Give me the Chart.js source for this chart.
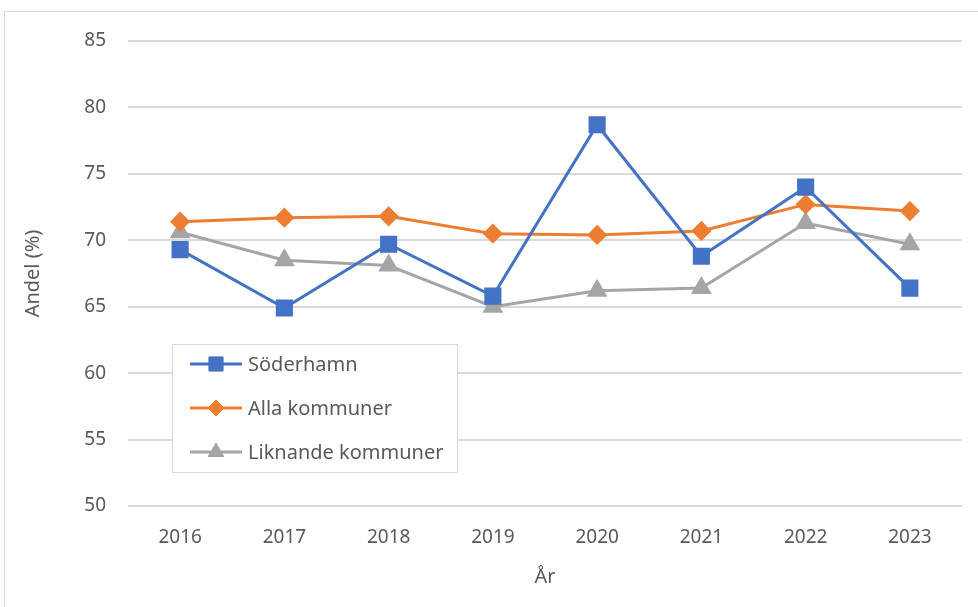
<!DOCTYPE html>
<html>
<head>
<meta charset="utf-8">
<script src="https://cdn.jsdelivr.net/npm/chart.js@4.4.1/dist/chart.umd.min.js"></script>
<style>
  html, body { margin: 0; padding: 0; background: #fff; }
  #wrap { width: 978px; height: 607px; position: relative; }
</style>
</head>
<body>
<div id="wrap"><canvas id="chart" width="978" height="607"></canvas></div>
<script>
'use strict';

// values
let years = ['2016', '2017', '2018', '2019', '2020', '2021', '2022', '2023'];
let soderhamn = [69.3, 64.9, 69.7, 65.8, 78.7, 68.8, 74.0, 66.4];
let allaKommuner = [71.4, 71.7, 71.8, 70.5, 70.4, 70.7, 72.7, 72.2];
let liknandeKommuner = [70.6, 68.5, 68.1, 65.0, 66.2, 66.4, 71.3, 69.7];
let seriesNames = ['Söderhamn', 'Alla kommuner', 'Liknande kommuner'];

const FONT = "'Noto Sans', 'Open Sans', sans-serif";
const TEXT = '#595959';

// frame round the whole chart
const framePlugin = {
  id: 'frame',
  beforeDraw(chart) {
    const ctx = chart.ctx;
    ctx.save();
    ctx.fillStyle = '#fff';
    ctx.fillRect(0, 0, chart.width, chart.height);
    ctx.strokeStyle = '#d9d9d9';
    ctx.lineWidth = 1;
    ctx.strokeRect(4.5, 11.5, chart.width + 10, chart.height + 10);
    ctx.restore();
  }
};

// legend box drawn inside the plot, like the original
const legendBox = {
  id: 'legendBox',
  afterDatasetsDraw(chart) {
    const ctx = chart.ctx;
    const x = 172, y = 344, w = 285, h = 128;
    ctx.save();
    ctx.fillStyle = '#fff';
    ctx.fillRect(x, y, w, h);
    ctx.strokeStyle = '#d9d9d9';
    ctx.lineWidth = 1;
    ctx.strokeRect(x + 0.5, y + 0.5, w, h);
    chart.data.datasets.forEach((ds, i) => {
      const cy = y + 20 + i * 44;
      ctx.strokeStyle = ds.borderColor;
      ctx.lineWidth = 3;
      ctx.beginPath();
      ctx.moveTo(190, cy);
      ctx.lineTo(242, cy);
      ctx.stroke();
      ctx.fillStyle = ds.borderColor;
      ctx.lineWidth = 1;
      Chart.helpers.drawPoint(ctx, {
        pointStyle: ds.pointStyle,
        radius: ds.pointRadius,
        rotation: 0,
        borderWidth: 1
      }, 216, cy);
      ctx.fillStyle = TEXT;
      ctx.font = '20px ' + FONT;
      ctx.textBaseline = 'middle';
      ctx.textAlign = 'left';
      ctx.fillText(ds.label, 248, cy + 1);
    });
    ctx.restore();
  }
};

const ctx = document.getElementById('chart');
new Chart(ctx, {
  type: 'line',
  data: {
    labels: years,
    datasets: [
      {
        label: seriesNames[0], data: soderhamn,
        borderColor: '#4472C4', backgroundColor: '#4472C4',
        borderWidth: 3, pointStyle: 'rect', pointRadius: 10, pointHoverRadius: 10,
        tension: 0
      },
      {
        label: seriesNames[1], data: allaKommuner,
        borderColor: '#ED7D31', backgroundColor: '#ED7D31',
        borderWidth: 3, pointStyle: 'rectRot', pointRadius: 8, pointHoverRadius: 8,
        tension: 0
      },
      {
        label: seriesNames[2], data: liknandeKommuner,
        borderColor: '#A5A5A5', backgroundColor: '#A5A5A5',
        borderWidth: 3, pointStyle: 'triangle', pointRadius: 9, pointHoverRadius: 9,
        tension: 0
      }
    ]
  },
  options: {
    responsive: false,
    animation: false,
    layout: { padding: { top: 41, right: 16, left: 0, bottom: 0 } },
    plugins: {
      legend: { display: false },
      tooltip: { enabled: false }
    },
    scales: {
      x: {
        offset: true,
        grid: { display: false, drawTicks: false },
        border: { display: false },
        ticks: { color: TEXT, font: { family: FONT, size: 19 }, padding: 20 },
        title: { display: true, text: 'År', color: TEXT, font: { family: FONT, size: 20 }, padding: { top: 18, bottom: 18 } },
        afterFit(scale) { scale.height = 101; }
      },
      y: {
        min: 50, max: 85,
        ticks: { stepSize: 5, color: TEXT, font: { family: FONT, size: 19 }, padding: 22 },
        grid: { color: '#d9d9d9', lineWidth: 2, drawTicks: false },
        border: { display: false },
        title: { display: true, text: 'Andel (%)', color: TEXT, font: { family: FONT, size: 20 }, padding: { top: 21, bottom: 0 } },
        afterFit(scale) { scale.width = 128; }
      }
    }
  },
  plugins: [framePlugin, legendBox]
});
</script>
</body>
</html>
